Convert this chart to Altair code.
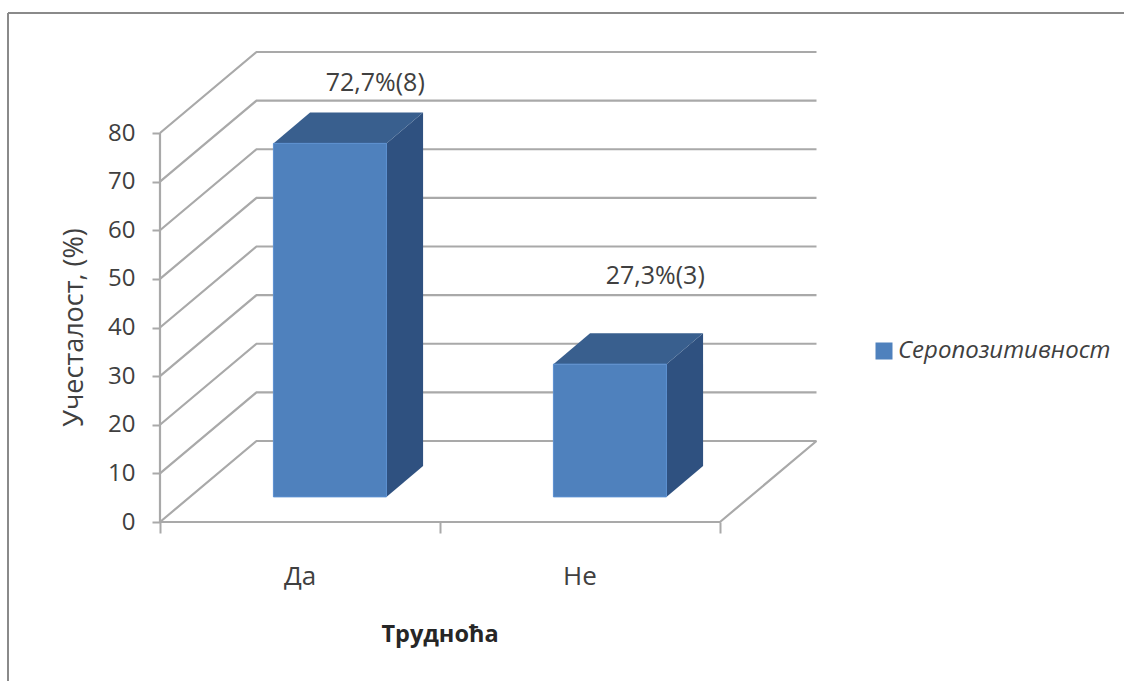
import altair as alt
import pandas as pd

categories = ["Да", "Не"]
values = [72.7, 27.3]
value_labels = ["72,7%(8)", "27,3%(3)"]
series_name = "Серопозитивност"
y_ticks = [0, 10, 20, 30, 40, 50, 60, 70, 80]
x_ticks = [0, 1, 2]

WIDTH, HEIGHT = 1124, 681
X_ORIGIN, X_UNIT = 160.0, 280.0      # pixels of x = 0 and of one category
Y_ORIGIN, Y_UNIT = 522.0, 4.8625     # pixels of y = 0 and of one percent

# Oblique projection: full depth of the box, in data units.
DEPTH_X = 96.5 / X_UNIT
DEPTH_Y = 81.0 / Y_UNIT
BAR_WIDTH = 113.0 / X_UNIT
BAR_D0, BAR_D1 = 0.31, 0.69          # front and back of a bar along the depth

FONT = "Open Sans"
TEXT = "#404040"
GRID = "#a9a9a9"
FRONT = "#4f81bd"
SIDE = "#2f5180"
TOP = "#395f8e"

x_scale = alt.Scale(domain=[-X_ORIGIN / X_UNIT, (WIDTH - X_ORIGIN) / X_UNIT], nice=False, zero=False)
y_scale = alt.Scale(domain=[(Y_ORIGIN - HEIGHT) / Y_UNIT, Y_ORIGIN / Y_UNIT], nice=False, zero=False)


def px(cat, depth=0.0):
    return cat + depth * DEPTH_X


def py(val, depth=0.0):
    return val + depth * DEPTH_Y


# Box wireframe: one polyline per gridline, running along the side wall and back wall.
wire = []
for v in y_ticks[1:] + [0]:
    wire += [
        {"line": f"g{v}", "o": 0, "x": px(0), "y": py(v)},
        {"line": f"g{v}", "o": 1, "x": px(0, 1), "y": py(v, 1)},
        {"line": f"g{v}", "o": 2, "x": px(2, 1), "y": py(v, 1)},
    ]
wire += [
    {"line": "floor", "o": 0, "x": px(0), "y": py(0)},
    {"line": "floor", "o": 1, "x": px(2), "y": py(0)},
    {"line": "floor", "o": 2, "x": px(2, 1), "y": py(0, 1)},
    {"line": "axis", "o": 0, "x": px(0), "y": py(0)},
    {"line": "axis", "o": 1, "x": px(0), "y": py(80)},
]

front, side, top = [], [], []
for i, (cat, val) in enumerate(zip(categories, values)):
    left = i + (1 - BAR_WIDTH) / 2
    right = left + BAR_WIDTH
    front += [
        {"bar": cat, "series": series_name, "x": px(left, BAR_D0), "y": py(val, BAR_D0), "y2": py(0, BAR_D0)},
        {"bar": cat, "series": series_name, "x": px(right, BAR_D0), "y": py(val, BAR_D0), "y2": py(0, BAR_D0)},
    ]
    side += [
        {"bar": cat, "x": px(right, BAR_D0), "y": py(val, BAR_D0), "y2": py(0, BAR_D0)},
        {"bar": cat, "x": px(right, BAR_D1), "y": py(val, BAR_D1), "y2": py(0, BAR_D1)},
    ]
    top += [
        {"bar": cat, "x": px(left, BAR_D0), "y": py(val, BAR_D0), "y2": py(val, BAR_D0)},
        {"bar": cat, "x": px(left, BAR_D1), "y": py(val, BAR_D1), "y2": py(val, BAR_D0)},
        {"bar": cat, "x": px(right, BAR_D0), "y": py(val, BAR_D1), "y2": py(val, BAR_D0)},
        {"bar": cat, "x": px(right, BAR_D1), "y": py(val, BAR_D1), "y2": py(val, BAR_D1)},
    ]

y_axis = alt.Axis(
    values=y_ticks, offset=-X_ORIGIN, grid=False, domain=False, tickColor=GRID, tickWidth=2, tickSize=8,
    labelFont=FONT, labelFontSize=24, labelColor=TEXT, labelPadding=17, title=None,
)
x_axis = alt.Axis(
    values=x_ticks, offset=Y_ORIGIN - HEIGHT, grid=False, domain=False, tickColor=GRID, tickWidth=2, tickSize=11,
    labels=False, title=None,
)

X = alt.X("x:Q", scale=x_scale, axis=x_axis)
Y = alt.Y("y:Q", scale=y_scale, axis=y_axis)

lines = (
    alt.Chart(pd.DataFrame(wire))
    .mark_line(color=GRID, strokeWidth=2.2)
    .encode(x=X, y=Y, detail="line:N", order="o:Q")
)

front_layer = (
    alt.Chart(pd.DataFrame(front))
    .mark_area(opacity=1, stroke="#5b8fd0", strokeWidth=1)
    .encode(
        x=X, y=Y, y2="y2:Q", detail="bar:N",
        color=alt.Color(
            "series:N",
            scale=alt.Scale(domain=[series_name], range=[FRONT]),
            legend=alt.Legend(
                orient="none", legendX=872, legendY=339, title=None, symbolType="square", symbolSize=289,
                symbolStrokeWidth=0, labelFont=FONT, labelFontStyle="italic", labelFontSize=24, labelColor=TEXT,
                labelOffset=2, labelLimit=300,
            ),
        ),
    )
)
side_layer = (
    alt.Chart(pd.DataFrame(side))
    .mark_area(color=SIDE, opacity=1)
    .encode(x=X, y=Y, y2="y2:Q", detail="bar:N")
)
top_layer = (
    alt.Chart(pd.DataFrame(top))
    .mark_area(color=TOP, opacity=1)
    .encode(x=X, y=Y, y2="y2:Q", detail="bar:N")
)

# Labels above the bars, lifted by hand as each one sits at its own height.
label_layers = []
for i, (label, val, lift) in enumerate(zip(value_labels, values, [30, 57])):
    label_layers.append(
        alt.Chart(pd.DataFrame({"x": [px(i + 0.5, 0.5)], "y": [py(val, BAR_D1)], "t": [label]}))
        .mark_text(font=FONT, fontSize=25, color=TEXT, dy=-lift, dx=27)
        .encode(x=X, y=Y, text="t:N")
    )

category_labels = (
    alt.Chart(pd.DataFrame({"x": [0.5, 1.5], "y": [0, 0], "t": categories}))
    .mark_text(font=FONT, fontSize=26, color=TEXT, dy=55)
    .encode(x=X, y=Y, text="t:N")
)
x_title = (
    alt.Chart(pd.DataFrame({"x": [1.0], "y": [0], "t": ["Трудноћа"]}))
    .mark_text(font=FONT, fontSize=23.5, fontWeight="bold", color="#262626", dy=113)
    .encode(x=X, y=Y, text="t:N")
)
y_title = (
    alt.Chart(pd.DataFrame({"x": [0], "y": [40], "t": ["Учесталост, (%)"]}))
    .mark_text(font=FONT, fontSize=27, color=TEXT, angle=270, dy=-85)
    .encode(x=X, y=Y, text="t:N")
)

# Outer picture frame along the top and left edges.
frame_top = alt.Chart().mark_rule(color="#8a8a8a", strokeWidth=2).encode(
    x=alt.value(8), x2=alt.value(WIDTH), y=alt.value(13)
)
frame_left = alt.Chart().mark_rule(color="#8a8a8a", strokeWidth=2).encode(
    x=alt.value(8), y=alt.value(13), y2=alt.value(HEIGHT)
)

chart = (
    alt.layer(
        frame_top, frame_left, lines, side_layer, top_layer, front_layer,
        *label_layers, category_labels, x_title, y_title,
    )
    .properties(width=WIDTH, height=HEIGHT, padding=0, autosize=alt.AutoSizeParams(type="none"), background="#ffffff")
    .configure_view(stroke=None)
)

chart.save("out.html", embed_options={"renderer": "svg", "actions": False})
